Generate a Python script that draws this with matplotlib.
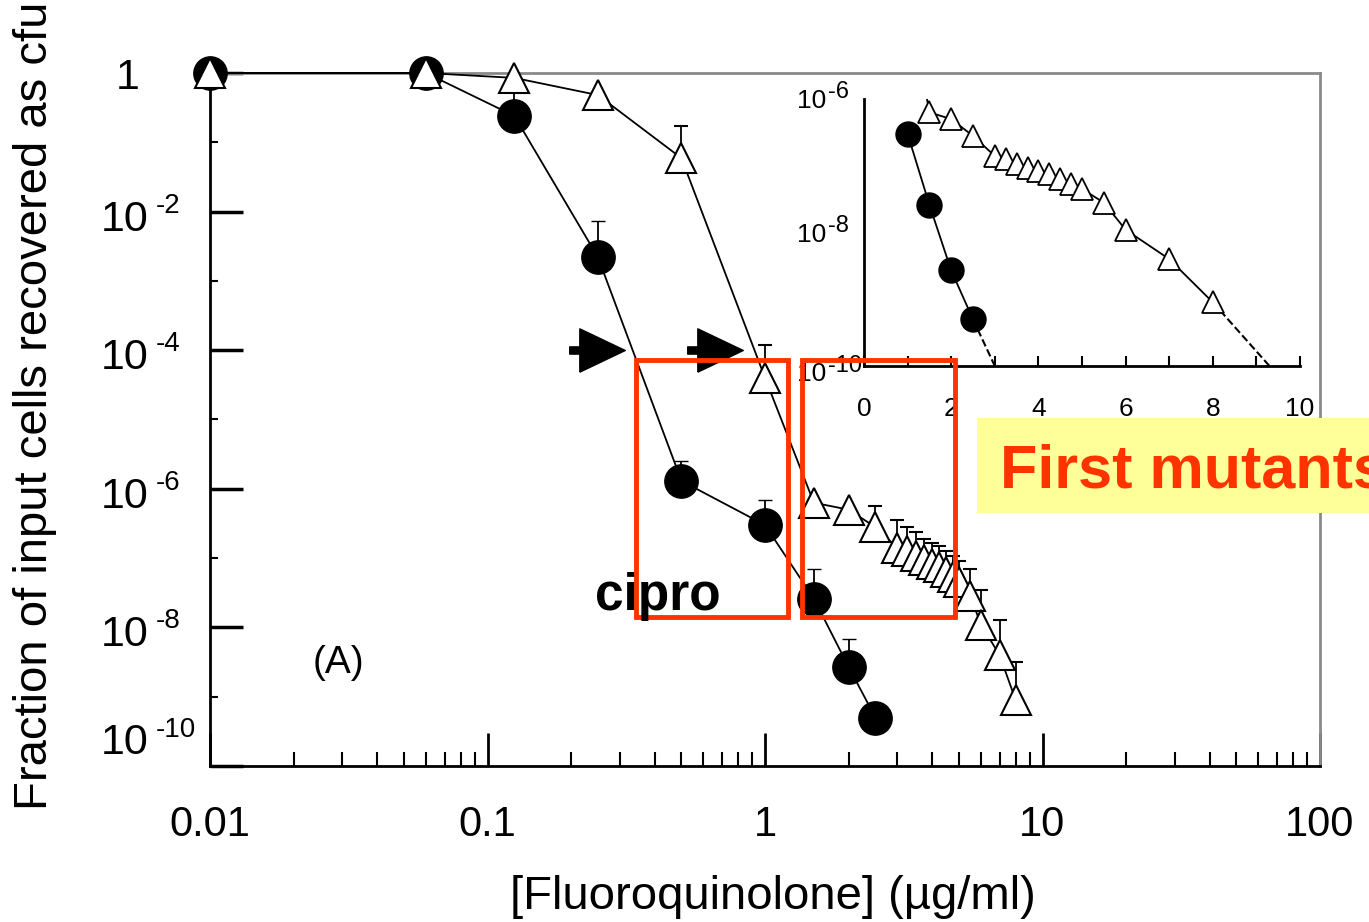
import matplotlib
matplotlib.use("Agg")
import matplotlib.pyplot as plt
from matplotlib import font_manager
from matplotlib.patches import Rectangle
from matplotlib.ticker import FixedLocator, FixedFormatter, LogLocator, NullFormatter
import numpy as np


def pick_font(names):
    for n in names:
        try:
            font_manager.findfont(font_manager.FontProperties(family=n), fallback_to_default=False)
            return n
        except ValueError:
            pass
    return "DejaVu Sans"


NARROW = pick_font(["Liberation Sans Narrow", "Liberation Sans"])
BOLD = pick_font(["Liberation Sans", "Arial"])
plt.rcParams["font.family"] = [NARROW, "DejaVu Sans"]

# values
conc_cipro = [0.01, 0.06, 0.125, 0.25, 0.5, 1.0, 1.5, 2.0, 2.5]
frac_cipro = [1, 1, 0.24, 2.2e-3, 1.3e-6, 3e-7, 2.6e-8, 2.7e-9, 5e-10]
errdec_cipro = [0, 0, 0.45, 0.52, 0.28, 0.36, 0.43, 0.4, 0]  # upper bar, decades

conc_mut = [0.01, 0.06, 0.125, 0.25, 0.5, 1.0, 1.5, 2.0, 2.5, 3.0, 3.25, 3.5,
            3.75, 4.0, 4.25, 4.5, 4.75, 5.0, 5.5, 6.0, 7.0, 8.0]
frac_mut = [1, 1, 0.85, 0.48, 0.059, 4e-5, 6.3e-7, 5e-7, 2.8e-7, 1.4e-7, 1.25e-7,
            1.07e-7, 9.3e-8, 8.3e-8, 7.4e-8, 6.3e-8, 5.4e-8, 4.5e-8, 2.8e-8,
            1.1e-8, 4e-9, 9e-10]
errdec_mut = [0, 0, 0, 0, 0.46, 0.48, 0, 0, 0.3, 0.4, 0.35, 0.35, 0.3, 0.3, 0.3,
              0.3, 0.3, 0.3, 0.4, 0.5, 0.5, 0.55]

# dashed extrapolations in the inset
extra_cipro_x = [2.5, 3.0]
extra_cipro_y = [5e-10, 1e-10]
extra_mut_x = [8.0, 9.3]
extra_mut_y = [9e-10, 1e-10]

# arrow heads marking the mutant selection window
arrow_x = [0.248, 0.66]
arrow_y = [1e-4, 1e-4]

main_yticks = [1, 1e-2, 1e-4, 1e-6, 1e-8, 1e-10]
main_yexp = ["0", "-2", "-4", "-6", "-8", "-10"]
main_xticks = [0.01, 0.1, 1, 10, 100]
main_xlabels = ["0.01", "0.1", "1", "10", "100"]
inset_xticks = [0, 2, 4, 6, 8, 10]
inset_yticks = [1e-6, 1e-8, 1e-10]
inset_yexp = ["-6", "-8", "-10"]

W, H = 1369, 922
fig = plt.figure(figsize=(W / 100, H / 100), dpi=100)


def upper(y, dec):
    y = np.asarray(y, float)
    up = y * (10 ** np.asarray(dec) - 1)
    return [np.zeros_like(y), up]


def power_label(ax, yval, exp, x_right, gap, dy_base, dy_sup, size, sup_size):
    # "10" right-aligned at x_right (pixels), exponent to the right, raised
    x0 = 1 if ax.get_xscale() == "log" else 0
    _, ypix = ax.transData.transform((x0, yval))
    fig.text(x_right / W, (ypix - dy_base) / H, "10", ha="right", va="center",
             fontsize=size)
    fig.text((x_right + gap) / W, (ypix - dy_sup) / H, exp, ha="left", va="center",
             fontsize=sup_size)


# ---- main axes ----
ax = fig.add_axes([210 / W, 1 - 766 / H, (1320 - 210) / W, (766 - 73) / H])
ax.set_xscale("log")
ax.set_yscale("log")
ax.set_xlim(0.01, 100)
ax.set_ylim(1e-10, 1)

ax.errorbar(conc_cipro, frac_cipro, yerr=upper(frac_cipro, errdec_cipro), fmt="-o",
            color="k", mfc="k", mec="k", ms=24, lw=1.3, elinewidth=1.3, capsize=5,
            clip_on=False, zorder=3)
ax.errorbar(conc_mut, frac_mut, yerr=upper(frac_mut, errdec_mut), fmt="-^",
            color="k", mfc="white", mec="k", ms=21, mew=1.5, lw=1.3, elinewidth=1.3,
            capsize=5, clip_on=False, zorder=4)

arrow = [(-0.636, -0.78), (1, 0), (-0.636, 0.78), (-0.636, 0.13), (-1, 0.13),
         (-1, -0.13), (-0.636, -0.13), (-0.636, -0.78)]
ax.plot(arrow_x, arrow_y, ls="none", marker=arrow, ms=40, color="k", zorder=5)

ax.xaxis.set_major_locator(FixedLocator(main_xticks))
ax.xaxis.set_major_formatter(FixedFormatter(main_xlabels))
ax.xaxis.set_minor_locator(LogLocator(base=10, subs=np.arange(2, 10)))
ax.xaxis.set_minor_formatter(NullFormatter())
ax.yaxis.set_major_locator(FixedLocator(main_yticks))
ax.yaxis.set_major_formatter(NullFormatter())
ax.yaxis.set_minor_locator(FixedLocator([1e-1, 1e-3, 1e-5, 1e-7, 1e-9]))
ax.yaxis.set_minor_formatter(NullFormatter())

ax.tick_params(which="both", direction="in", top=False, right=False)
ax.tick_params(axis="x", which="major", length=24, width=2, labelsize=30, pad=28)
ax.tick_params(axis="x", which="minor", length=10, width=1.5)
ax.tick_params(axis="y", which="major", length=24, width=2.5)
ax.tick_params(axis="y", which="minor", length=6, width=1.5)
for s in ["left", "bottom"]:
    ax.spines[s].set_linewidth(2)
for s in ["top", "right"]:
    ax.spines[s].set_color("#8a8a8a")
    ax.spines[s].set_linewidth(2)
    ax.spines[s].set_linestyle((0, (2, 1)))

# ---- inset ----
axin = fig.add_axes([864 / W, 1 - 366 / H, (1300 - 864) / W, (366 - 99) / H])
axin.set_facecolor("none")
axin.set_yscale("log")
axin.set_xlim(0, 10)
axin.set_ylim(1e-10, 1e-6)
ci = [i for i, c in enumerate(conc_cipro) if c >= 1]
mi = [i for i, c in enumerate(conc_mut) if c >= 1]
axin.plot([conc_cipro[i] for i in ci], [frac_cipro[i] for i in ci], "-o", color="k",
          ms=18, lw=1.3, zorder=3)
axin.plot([conc_mut[i] for i in mi], [frac_mut[i] for i in mi], "-^", color="k",
          mfc="white", ms=16, mew=1.3, lw=1.3, zorder=4)
axin.plot(extra_cipro_x, extra_cipro_y, "--", color="k", lw=1.5, clip_on=False)
axin.plot(extra_mut_x, extra_mut_y, "--", color="k", lw=1.5, clip_on=False)

axin.xaxis.set_major_locator(FixedLocator(inset_xticks))
axin.xaxis.set_minor_locator(FixedLocator([1, 3, 5, 7, 9]))
axin.yaxis.set_major_locator(FixedLocator(inset_yticks))
axin.yaxis.set_major_formatter(NullFormatter())
axin.yaxis.set_minor_locator(FixedLocator([]))
axin.tick_params(axis="x", which="both", direction="in", length=7, width=1.5,
                 labelsize=19, pad=22)
axin.tick_params(axis="y", which="both", length=0)
axin.spines["top"].set_visible(False)
axin.spines["right"].set_visible(False)
for s in ["left", "bottom"]:
    axin.spines[s].set_linewidth(2)

# ---- y tick labels drawn as "10" + raised exponent ----
fig.canvas.draw()
for yv, e in zip(main_yticks, main_yexp):
    if e == "0":
        _, yp = ax.transData.transform((1, yv))
        fig.text(128 / W, (yp - 5) / H, "1", ha="center", va="center", fontsize=31)
    elif e == "-10":
        power_label(ax, yv, e, 148, 8, -23, -36, 31, 20)
    else:
        power_label(ax, yv, e, 148, 8, 8, -6, 31, 20)
for yv, e in zip(inset_yticks, inset_yexp):
    if e == "-10":
        power_label(axin, yv, e, 826, 2, 8, 0, 19, 17)
    else:
        power_label(axin, yv, e, 826, 2, 2, -7, 19, 17)

# ---- labels and annotations ----
fig.text(35 / W, 1 - 810 / H, "Fraction of input cells recovered as cfu", rotation=90,
         ha="center", va="bottom", fontsize=34)
fig.text(773 / W, 1 - 897 / H, "[Fluoroquinolone] (\u00b5g/ml)", ha="center",
         va="center", fontsize=34)
fig.text(338 / W, 1 - 663 / H, "(A)", ha="center", va="center", fontsize=28)

for x0, x1 in [(636, 788), (802, 955)]:
    fig.add_artist(Rectangle((x0 / W, 1 - 617 / H), (x1 - x0) / W, (617 - 360) / H,
                             fill=False, ec="#FF3300", lw=3.5,
                             transform=fig.transFigure, zorder=10))
fig.add_artist(Rectangle((977 / W, 1 - 513 / H), (W - 977) / W, 95 / H, fc="#FFFF99",
                         ec="none", transform=fig.transFigure, zorder=9))
fig.text(1000 / W, 1 - 487 / H, "First mutants", color="#FF3300", fontsize=44,
         fontweight="bold", family=BOLD, va="baseline", zorder=11)
fig.text(595 / W, 1 - 610 / H, "cipro", color="k", fontsize=37, fontweight="bold",
         family=BOLD, va="baseline", zorder=11)

fig.savefig("out.png", dpi=100)
